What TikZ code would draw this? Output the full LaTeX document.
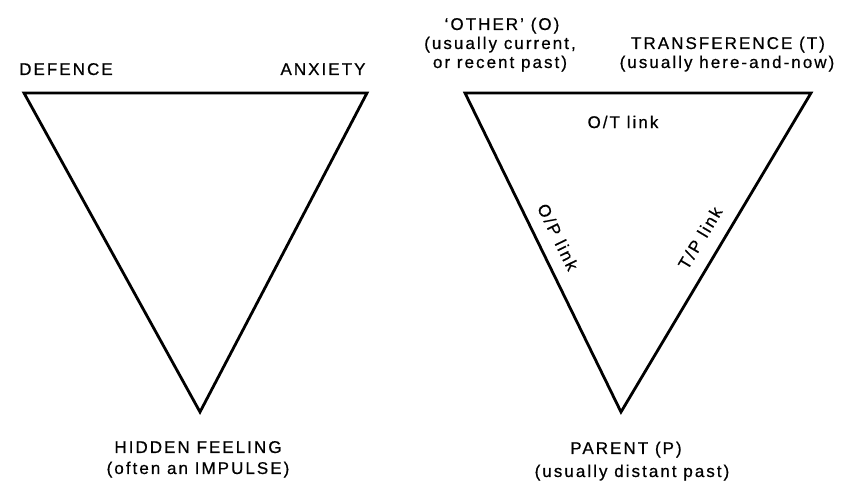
\documentclass[tikz,border=0pt]{standalone}
\usepackage{fontspec}
\setmainfont{Liberation Sans}[LetterSpace=12,FakeBold=0.6]
\begin{document}
\begin{tikzpicture}[x=1pt,y=1pt,
  edge/.style={line width=2.8pt,line join=miter},
  txt/.style={font=\fontsize{17}{18}\selectfont,inner sep=0pt,anchor=base},
  lnktxt/.style={font=\fontsize{17}{18}\selectfont,inner sep=0pt}]
\useasboundingbox (0,0) rectangle (844,487);
% left triangle
\coordinate (a1) at (24,394);
\coordinate (b1) at (367,394);
\coordinate (c1) at (200,75);
\draw[edge] (a1) -- (b1) -- (c1) -- cycle;
% right triangle
\coordinate (a2) at (465,394);
\coordinate (b2) at (811,394);
\coordinate (c2) at (621,75);
\draw[edge] (a2) -- (b2) -- (c2) -- cycle;
% left labels
\node[txt] (def) at (66,412) {DEFENCE};
\node[txt] (anx) at (323,412) {ANXIETY};
\node[txt] (hid) at (198,34) {HIDDEN FEELING};
\node[txt] (imp) at (198,13) {(often an IMPULSE)};
% right labels
\node[txt] (oth) at (502,457) {`OTHER' (O)};
\node[txt] (oth1) at (500,438) {(usually current,};
\node[txt] (oth2) at (500,419) {or recent past)};
\node[txt] (tra) at (728,438) {TRANSFERENCE (T)};
\node[txt] (tra1) at (727,419) {(usually here-and-now)};
\node[txt] (par) at (626,33) {PARENT (P)};
\node[txt] (par1) at (632,10) {(usually distant past)};
% link labels
\node[lnktxt] (ot) at (623,365) {O/T link};
\node[lnktxt,rotate=-63.9] (op) at (558,250) {O/P link};
\node[lnktxt,rotate=59.2] (tp) at (700,249) {T/P link};
\end{tikzpicture}
\end{document}
